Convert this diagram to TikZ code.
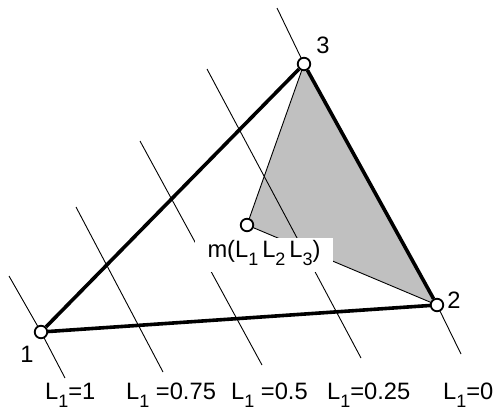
\documentclass[tikz,border=0pt]{standalone}
\usepackage{fontspec}
\setmainfont{Liberation Sans}
\usepackage{tikz}
\usetikzlibrary{positioning}
\definecolor{shade}{RGB}{192,192,192}
\newcommand{\lsub}[1]{\raisebox{-8pt}{\fontsize{18}{18}\selectfont #1}}

\begin{document}
\begin{tikzpicture}[
  x=1pt, y=-1pt,
  every node/.style={font=\fontsize{23.7}{26}\selectfont},
  vtx/.style={circle, draw, fill=white, line width=1.8pt, inner sep=0pt, minimum size=12.5pt},
  side/.style={line width=3.6pt},
  level/.style={line width=0.9pt},
  area/.style={level, fill=shade},
  tag/.style={inner sep=0pt, anchor=base},
  val/.style={inner sep=0pt, anchor=base west},
  mbox/.style={fill=white, anchor=base, inner xsep=0pt, inner ysep=3pt,
    text height=16pt, text depth=12pt, minimum width=138pt}
]
\useasboundingbox (0,0) rectangle (499,410);

\coordinate (p1) at (41,332);
\coordinate (p2) at (437,305);
\coordinate (p3) at (304,64);
\coordinate (pm) at (247,225);

% ends of the lines L1 = const
\coordinate (t1) at (9,276);   \coordinate (b1) at (65,378);
\coordinate (t2) at (76,207);  \coordinate (b2) at (163,372);
\coordinate (t3) at (140,141); \coordinate (b3) at (262,365);
\coordinate (t4) at (207,69);  \coordinate (b4) at (361,358);
\coordinate (t5) at (277,8);   \coordinate (b5) at (461,354);

% sub-triangle
\draw[area] (pm) -- (p3) -- (p2) -- cycle;

\draw[level] (t1) -- (p1) -- (b1);
\foreach \k in {2,3,4}
  \draw[level] (t\k) -- (b\k);
\draw[level] (t5) -- (p3) -- (p2) -- (b5);

\node[mbox] (mlab) at (264,257) {m(L\lsub{1}\,L\lsub{2}\,L\lsub{3})};

\node[vtx] (n1) at (p1) {};
\node[vtx] (n2) at (p2) {};
\node[vtx] (n3) at (p3) {};
\node[vtx] (m) at (pm) {};

\draw[side] (n1) -- (n3);
\draw[side] (n3) -- (n2);
\draw[side] (n2) -- (n1);

\node[tag] (c1) at (27,362) {1};
\node[tag] (c2) at (454,308) {2};
\node[tag] (c3) at (323,53) {3};

\node[val] (v1) at (45,399) {L\lsub{1}=1};
\node[val] (v2) at (126,399) {L\lsub{1} =0.75};
\node[val] (v3) at (231,399) {L\lsub{1} =0.5};
\node[val] (v4) at (327,399) {L\lsub{1}=0.25};
\node[val] (v5) at (443,399) {L\lsub{1}=0};
\end{tikzpicture}
\end{document}
